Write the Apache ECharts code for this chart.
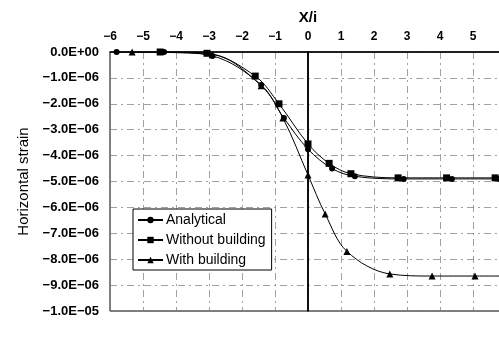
<!DOCTYPE html>
<html>
<head>
<meta charset="utf-8">
<script src="https://cdn.jsdelivr.net/npm/echarts@6/dist/echarts.min.js"></script>
<style>html,body{margin:0;padding:0;background:#fff;}#c{width:499px;height:343px;}</style>
</head>
<body>
<div id="c"></div>
<script>
// values in units of 1e-6 strain
var xTicks = [-6, -5, -4, -3, -2, -1, 0, 1, 2, 3, 4, 5, 6];
var analyticalX = [-5.8, -4.36, -2.9, -1.42, -0.73, 0, 0.73, 1.42, 2.9, 4.36, 5.8];
var analyticalY = [0, 0, -0.15, -1.27, -2.55, -3.75, -4.5, -4.8, -4.9, -4.9, -4.9];
var withoutX = [-4.48, -3.06, -1.6, -0.88, 0, 0.64, 1.3, 2.73, 4.2, 5.67];
var withoutY = [0, -0.05, -0.93, -2.0, -3.55, -4.3, -4.7, -4.86, -4.86, -4.86];
var withX = [-5.33, -2.9, -1.42, -0.76, 0, 0.52, 1.18, 2.48, 3.76, 5.06, 6.0];
var withY = [0, -0.1, -1.3, -2.55, -4.75, -6.25, -7.7, -8.57, -8.65, -8.65, -8.65];
var seriesNames = ['Analytical', 'Without building', 'With building'];

function pairs(xs, ys) { return xs.map(function (x, i) { return [x, ys[i]]; }); }
function fmtE(v) {
  if (Math.abs(v) < 1e-12) return '0.0E+00';
  var real = v * 1e-6;
  var exp = Math.floor(Math.log10(Math.abs(real)) + 1e-9);
  var mant = real / Math.pow(10, exp);
  return (mant < 0 ? '\u2212' : '') + Math.abs(mant).toFixed(1) + 'E' + (exp < 0 ? '\u2212' : '+') + String(Math.abs(exp)).padStart(2, '0');
}
var font = 'Liberation Sans, Arial, sans-serif';
var chart = echarts.init(document.getElementById('c'));
var gridLine = { show: true, lineStyle: { color: '#777', width: 1, type: [7, 4, 2, 4], opacity: 0.7 } };
var base = { type: 'line', smooth: 0.35, color: '#000', lineStyle: { color: '#000', width: 1 }, itemStyle: { color: '#000' }, animation: false, clip: true };
chart.setOption({
  animation: false,
  backgroundColor: '#fff',
  textStyle: { fontFamily: font },
  grid: { left: 110, top: 52, width: 396, height: 259, outerBoundsMode: 'none', containLabel: false, show: true, borderColor: '#000', borderWidth: 1, backgroundColor: 'transparent' },
  xAxis: {
    type: 'value', position: 'top', min: -6, max: 6, interval: 1,
    name: 'X/i', nameLocation: 'middle', nameGap: 27,
    nameTextStyle: { fontFamily: font, fontSize: 15, fontWeight: 'bold', color: '#000' },
    axisLine: { show: true, lineStyle: { color: '#000', width: 1.5 } },
    axisTick: { show: false },
    axisLabel: { fontFamily: font, fontSize: 12, fontWeight: 'bold', color: '#000', margin: 9,
      formatter: function (v) { return v < 0 ? '\u2212' + Math.abs(v) : String(v); } },
    splitLine: gridLine
  },
  yAxis: {
    type: 'value', min: -10, max: 0, interval: 1,
    name: 'Horizontal strain', nameLocation: 'middle', nameGap: 77,
    nameTextStyle: { fontFamily: font, fontSize: 15, color: '#000' },
    axisLine: { show: true, lineStyle: { color: '#000', width: 1.5 } },
    axisTick: { show: false },
    axisLabel: { fontFamily: font, fontSize: 13, fontWeight: 'bold', color: '#000', margin: 11, formatter: fmtE },
    splitLine: gridLine
  },
  legend: {
    orient: 'vertical', left: 133, top: 209,
    padding: [4, 6, 3, 4], itemGap: 6, itemWidth: 25, itemHeight: 8,
    borderColor: '#000', borderWidth: 1, backgroundColor: '#fff', borderRadius: 0,
    textStyle: { fontFamily: font, fontSize: 14, color: '#000', padding: [0, 0, 0, -2] },
    data: seriesNames
  },
  series: [
    Object.assign({}, base, { name: seriesNames[0], symbol: 'circle', symbolSize: 6, data: pairs(analyticalX, analyticalY),
      markLine: { silent: true, symbol: 'none', label: { show: false }, lineStyle: { color: '#000', type: 'solid', width: 1.5 }, data: [{ xAxis: 0 }] } }),
    Object.assign({}, base, { name: seriesNames[1], symbol: 'rect', symbolSize: 7, data: pairs(withoutX, withoutY) }),
    Object.assign({}, base, { name: seriesNames[2], symbol: 'triangle', symbolSize: 7, data: pairs(withX, withY) })
  ]
});
</script>
</body>
</html>
